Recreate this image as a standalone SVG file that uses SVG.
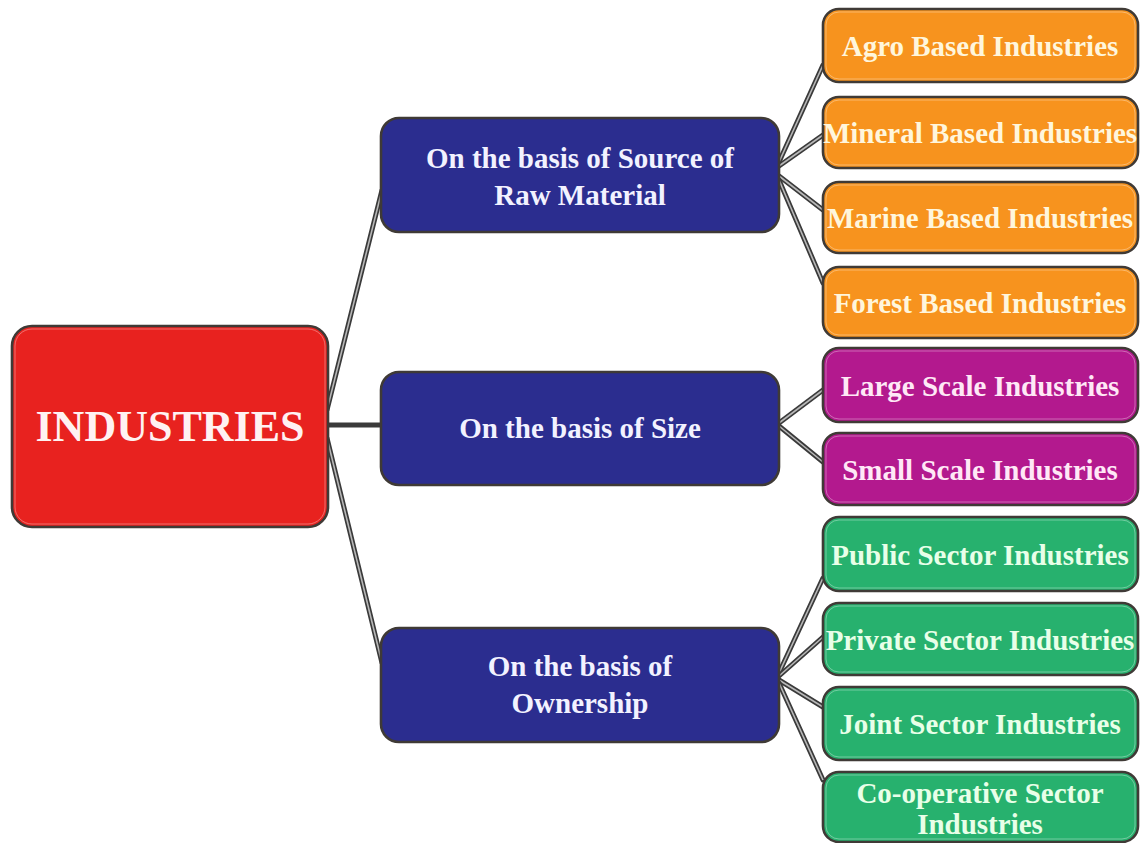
<svg xmlns="http://www.w3.org/2000/svg" width="1140" height="843" viewBox="0 0 1140 843">
<style>
.box{stroke:#3f3a36;stroke-width:2.6}
.hl{fill:none;stroke:#ffffff;stroke-opacity:0.35;stroke-width:1}
.t{font-family:"Liberation Serif","Times New Roman",serif;font-weight:bold;text-anchor:middle}
.c{font-size:29px}
.ln{fill:none;stroke:#3a3a3a;stroke-width:5;stroke-linecap:round}
.lc{fill:none;stroke:#b8b8b8;stroke-width:1.6}
</style>
<rect width="1140" height="843" fill="#ffffff"/>
<g id="connectors">
<path class="ln" d="M327,410 L382,190"/><path class="lc" d="M327,410 L382,190"/>
<path class="ln" d="M327,425 L381,425"/>
<path class="ln" d="M327,438 L382,663"/><path class="lc" d="M327,438 L382,663"/>
<path class="ln" d="M779,162 L823,65"/><path class="lc" d="M779,162 L823,65"/>
<path class="ln" d="M779,166 L823,135"/><path class="lc" d="M779,166 L823,135"/>
<path class="ln" d="M779,176 L823,210"/><path class="lc" d="M779,176 L823,210"/>
<path class="ln" d="M779,180 L823,283"/><path class="lc" d="M779,180 L823,283"/>
<path class="ln" d="M779,423 L823,390"/><path class="lc" d="M779,423 L823,390"/>
<path class="ln" d="M779,426 L823,462"/><path class="lc" d="M779,426 L823,462"/>
<path class="ln" d="M779,673 L823,578"/><path class="lc" d="M779,673 L823,578"/>
<path class="ln" d="M779,676 L823,637"/><path class="lc" d="M779,676 L823,637"/>
<path class="ln" d="M779,680 L823,707"/><path class="lc" d="M779,680 L823,707"/>
<path class="ln" d="M779,683 L823,780"/><path class="lc" d="M779,683 L823,780"/>
</g>
<g id="industries">
<rect class="box" x="12" y="326" width="316" height="201" rx="20" fill="#e8221f"/>
<rect class="hl" x="15" y="329" width="310" height="195" rx="17"/>
<text class="t" x="170" y="441" font-size="44" fill="#fff2f2">INDUSTRIES</text>
</g>
<g id="raw-material">
<rect class="box" x="381" y="118" width="398" height="114" rx="18" fill="#2b2d8f"/>
<text class="t c" x="580" y="168" fill="#f2f2ff">On the basis of Source of</text>
<text class="t c" x="580" y="205" fill="#f2f2ff">Raw Material</text>
</g>
<g id="size">
<rect class="box" x="381" y="372" width="398" height="113" rx="18" fill="#2b2d8f"/>
<text class="t c" x="580" y="438" fill="#f2f2ff">On the basis of Size</text>
</g>
<g id="ownership">
<rect class="box" x="381" y="628" width="398" height="114" rx="18" fill="#2b2d8f"/>
<text class="t c" x="580" y="676" fill="#f2f2ff">On the basis of</text>
<text class="t c" x="580" y="713" fill="#f2f2ff">Ownership</text>
</g>
<g id="agro">
<rect class="box" x="823" y="9" width="315" height="73" rx="16" fill="#f7931e"/>
<rect class="hl" x="826" y="12" width="309" height="67" rx="13"/>
<text class="t c" x="980" y="56" fill="#fff6dc">Agro Based Industries</text>
</g>
<g id="mineral">
<rect class="box" x="823" y="97" width="315" height="71" rx="16" fill="#f7931e"/>
<rect class="hl" x="826" y="100" width="309" height="65" rx="13"/>
<text class="t c" x="980" y="143" fill="#fff6dc">Mineral Based Industries</text>
</g>
<g id="marine">
<rect class="box" x="823" y="182" width="315" height="71" rx="16" fill="#f7931e"/>
<rect class="hl" x="826" y="185" width="309" height="65" rx="13"/>
<text class="t c" x="980" y="228" fill="#fff6dc">Marine Based Industries</text>
</g>
<g id="forest">
<rect class="box" x="823" y="267" width="315" height="71" rx="16" fill="#f7931e"/>
<rect class="hl" x="826" y="270" width="309" height="65" rx="13"/>
<text class="t c" x="980" y="313" fill="#fff6dc">Forest Based Industries</text>
</g>
<g id="large">
<rect class="box" x="823" y="348" width="315" height="74" rx="16" fill="#b3198e"/>
<rect class="hl" x="826" y="351" width="309" height="68" rx="13"/>
<text class="t c" x="980" y="396" fill="#ffe8f6">Large Scale Industries</text>
</g>
<g id="small">
<rect class="box" x="823" y="433" width="315" height="72" rx="16" fill="#b3198e"/>
<rect class="hl" x="826" y="436" width="309" height="66" rx="13"/>
<text class="t c" x="980" y="480" fill="#ffe8f6">Small Scale Industries</text>
</g>
<g id="public">
<rect class="box" x="823" y="517" width="315" height="74" rx="16" fill="#27b16e"/>
<rect class="hl" x="826" y="520" width="309" height="68" rx="13"/>
<text class="t c" x="980" y="565" fill="#e8ffe8">Public Sector Industries</text>
</g>
<g id="private">
<rect class="box" x="823" y="603" width="315" height="72" rx="16" fill="#27b16e"/>
<rect class="hl" x="826" y="606" width="309" height="66" rx="13"/>
<text class="t c" x="980" y="650" fill="#e8ffe8">Private Sector Industries</text>
</g>
<g id="joint">
<rect class="box" x="823" y="687" width="315" height="73" rx="16" fill="#27b16e"/>
<rect class="hl" x="826" y="690" width="309" height="67" rx="13"/>
<text class="t c" x="980" y="734" fill="#e8ffe8">Joint Sector Industries</text>
</g>
<g id="cooperative">
<rect class="box" x="823" y="772" width="315" height="70" rx="16" fill="#27b16e"/>
<rect class="hl" x="826" y="775" width="309" height="64" rx="13"/>
<text class="t c" x="980" y="803" fill="#e8ffe8">Co-operative Sector</text>
<text class="t c" x="980" y="834" fill="#e8ffe8">Industries</text>
</g>
</svg>
